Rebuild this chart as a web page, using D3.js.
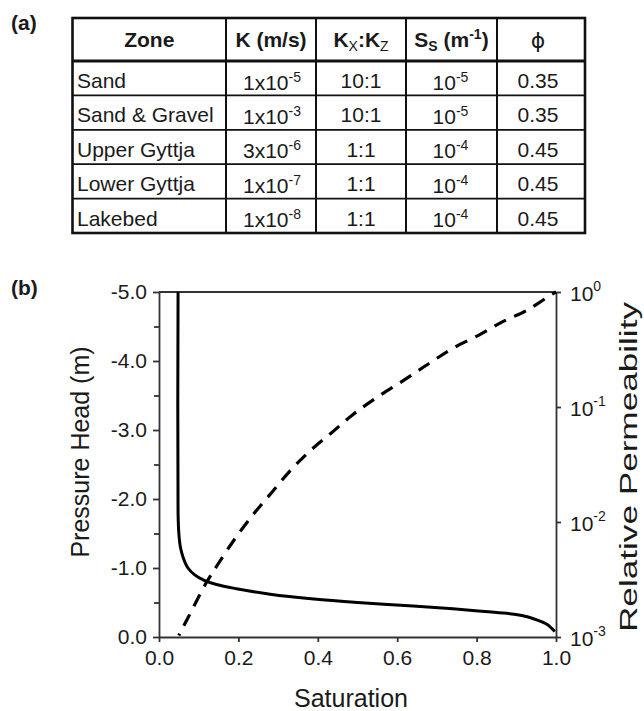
<!DOCTYPE html>
<html>
<head>
<meta charset="utf-8">
<script src="https://cdn.jsdelivr.net/npm/d3@7"></script>
<style>
  html, body { margin: 0; padding: 0; background: #fff; }
  svg { display: block; }
  text { font-family: "Liberation Sans", Arial, Helvetica, sans-serif; fill: #1a1a1a; }
</style>
</head>
<body>
<div id="chart"></div>
<script>
// ---------------- DATA ----------------
// (a) table
const zones       = ["Sand", "Sand & Gravel", "Upper Gyttja", "Lower Gyttja", "Lakebed"];
const kMantissa   = [1, 1, 3, 1, 1];
const kExponent   = [-5, -3, -6, -7, -8];
const anisotropy  = ["10:1", "10:1", "1:1", "1:1", "1:1"];
const ssExponent  = [-5, -5, -4, -4, -4];
const porosity    = ["0.35", "0.35", "0.45", "0.45", "0.45"];

// (b) retention curve: pressure head (m) vs saturation
const retentionHead = [-5.0, -1.8, -1.5, -1.3, -1.15, -1.0, -0.9, -0.82, -0.76, -0.7, -0.62, -0.55, -0.5, -0.45, -0.41, -0.37, -0.33, -0.29, -0.24, -0.18, -0.12, -0.08];
const retentionSat  = [0.048, 0.048, 0.05, 0.054, 0.061, 0.073, 0.09, 0.114, 0.145, 0.195, 0.28, 0.39, 0.5, 0.64, 0.74, 0.82, 0.895, 0.93, 0.955, 0.978, 0.99, 0.997];

// (b) relative permeability vs saturation
const permSat = [0.05, 0.073, 0.119, 0.148, 0.19, 0.237, 0.283, 0.329, 0.379, 0.434, 0.488, 0.547, 0.618, 0.681, 0.74, 0.807, 0.866, 0.928, 0.987, 1.0];
const permKr  = [0.00103, 0.00147, 0.00296, 0.00427, 0.00705, 0.0116, 0.0179, 0.0276, 0.0411, 0.0594, 0.0857, 0.120, 0.172, 0.240, 0.324, 0.424, 0.552, 0.698, 0.942, 1.0];

// tick values
const xTicks      = [0.0, 0.2, 0.4, 0.6, 0.8, 1.0];
const yTicks      = [-5, -4, -3, -2, -1, 0];
const yMinorTicks = [-4.5, -3.5, -2.5, -1.5, -0.5];
const y2Exponents = [0, -1, -2, -3];

// ---------------- LAYOUT ----------------
const W = 644, H = 711;
const svg = d3.select("#chart").append("svg").attr("width", W).attr("height", H);
svg.append("rect").attr("width", W).attr("height", H).attr("fill", "#fff");

const FONT = 21;

// panel labels
svg.append("text").attr("x", 11).attr("y", 30).attr("font-size", 21).attr("font-weight", "bold").text("(a)");
svg.append("text").attr("x", 11).attr("y", 295).attr("font-size", 21).attr("font-weight", "bold").text("(b)");

// ---------------- TABLE ----------------
const colEdges = [72.5, 226, 316, 406, 497, 585];
const tTop = 18, headBottom = 61, tBottom = 233;
const rowScale = d3.scaleBand().domain(d3.range(zones.length)).range([headBottom, tBottom]);
const colMid = i => (colEdges[i] + colEdges[i + 1]) / 2;
const tbl = svg.append("g");

rowScale.domain().slice(1).forEach(i => {
  tbl.append("line").attr("x1", colEdges[0]).attr("x2", colEdges[5])
    .attr("y1", rowScale(i)).attr("y2", rowScale(i))
    .attr("stroke", "#111").attr("stroke-width", 1.7);
});
colEdges.slice(1, 5).forEach(x => {
  tbl.append("line").attr("x1", x).attr("x2", x).attr("y1", tTop).attr("y2", tBottom)
    .attr("stroke", "#111").attr("stroke-width", 2);
});
tbl.append("line").attr("x1", colEdges[0]).attr("x2", colEdges[5])
  .attr("y1", headBottom).attr("y2", headBottom).attr("stroke", "#111").attr("stroke-width", 2.8);
tbl.append("rect").attr("x", colEdges[0]).attr("y", tTop)
  .attr("width", colEdges[5] - colEdges[0]).attr("height", tBottom - tTop)
  .attr("fill", "none").attr("stroke", "#111").attr("stroke-width", 2.6);

// header text
const hy = 47;
tbl.append("text").attr("x", colMid(0)).attr("y", hy).attr("text-anchor", "middle")
  .attr("font-size", FONT).attr("font-weight", "bold").text("Zone");
tbl.append("text").attr("x", colMid(1)).attr("y", hy).attr("text-anchor", "middle")
  .attr("font-size", FONT).attr("font-weight", "bold").text("K (m/s)");
{
  const t = tbl.append("text").attr("x", colMid(2)).attr("y", hy).attr("text-anchor", "middle")
    .attr("font-size", FONT).attr("font-weight", "bold");
  t.append("tspan").text("K");
  t.append("tspan").attr("font-size", 14).attr("font-weight", "normal").attr("dy", 4).text("X");
  t.append("tspan").attr("dy", -4).text(":K");
  t.append("tspan").attr("font-size", 14).attr("font-weight", "normal").attr("dy", 4).text("Z");
}
{
  const t = tbl.append("text").attr("x", colMid(3)).attr("y", hy).attr("text-anchor", "middle")
    .attr("font-size", FONT).attr("font-weight", "bold");
  t.append("tspan").text("S");
  t.append("tspan").attr("font-size", 14).attr("dy", 4).text("S");
  t.append("tspan").attr("dy", -4).text(" (m");
  t.append("tspan").attr("font-size", 14).attr("dy", -8).text("-1");
  t.append("tspan").attr("dy", 8).text(")");
}
tbl.append("text").attr("x", colMid(4) - 3).attr("y", hy + 1).attr("text-anchor", "middle")
  .attr("font-size", 22).attr("font-weight", "normal").style("font-family", "'DejaVu Sans'").text("\u03D5");

// rows
const rowBase = i => rowScale(i) + 27;
function supText(g, x, y, base, sup) {
  const t = g.append("text").attr("x", x).attr("y", y).attr("text-anchor", "middle").attr("font-size", FONT);
  t.append("tspan").text(base);
  t.append("tspan").attr("font-size", 14).attr("dy", -8).text(sup);
  return t;
}
zones.forEach((z, i) => {
  tbl.append("text").attr("x", colEdges[0] + 4.5).attr("y", rowBase(i)).attr("font-size", FONT).text(z);
  supText(tbl, colMid(1) + 1, rowBase(i) + 1.5, kMantissa[i] + "x10", String(kExponent[i]));
  tbl.append("text").attr("x", colMid(2)).attr("y", rowBase(i)).attr("text-anchor", "middle").attr("font-size", FONT).text(anisotropy[i]);
  supText(tbl, colMid(3) - 1, rowBase(i) + 1.5, "10", String(ssExponent[i]));
  tbl.append("text").attr("x", colMid(4) - 3).attr("y", rowBase(i)).attr("text-anchor", "middle").attr("font-size", FONT).text(porosity[i]);
});

// ---------------- CHART ----------------
const P = { left: 159, right: 556, top: 292, bottom: 637 };
const x  = d3.scaleLinear().domain([0, 1]).range([P.left, P.right]);
const y  = d3.scaleLinear().domain([-5, 0]).range([P.top, P.bottom]);
const y2 = d3.scaleLog().domain([1e-3, 1]).range([P.bottom, P.top]);

const axisColor = "#333";
const fmt = v => (v < 0 ? "-" : "") + Math.abs(v).toFixed(1);

const gL = svg.append("g").attr("transform", `translate(${P.left},0)`)
  .call(d3.axisLeft(y).tickValues(yTicks).tickFormat(fmt).tickSize(6).tickSizeOuter(0).tickPadding(6));
svg.append("g").attr("transform", `translate(${P.left},0)`)
  .call(d3.axisLeft(y).tickValues(yMinorTicks).tickFormat("").tickSize(5).tickSizeOuter(0))
  .select(".domain").remove();

const gB = svg.append("g").attr("transform", `translate(0,${P.bottom})`)
  .call(d3.axisBottom(x).tickValues(xTicks).tickFormat(fmt).tickSize(5).tickSizeOuter(0).tickPadding(8));

const gR = svg.append("g").attr("transform", `translate(${P.right},0)`)
  .call(d3.axisRight(y2).tickValues(y2Exponents.map(e => Math.pow(10, e))).tickFormat("").tickSize(5).tickSizeOuter(0));
gR.selectAll(".tick").each(function(d) {
  const t = d3.select(this).append("text").attr("x", 14).attr("y", 8)
    .attr("text-anchor", "start").attr("font-size", FONT).attr("fill", "#1a1a1a");
  t.append("tspan").text("10");
  t.append("tspan").attr("font-size", 14).attr("dy", -10).text(String(Math.round(Math.log10(d))));
});

svg.append("line").attr("x1", P.left).attr("x2", P.right).attr("y1", P.top).attr("y2", P.top)
  .attr("stroke", axisColor).attr("stroke-width", 1.8);

[gL, gB, gR].forEach(g => {
  g.selectAll(".domain").attr("stroke", axisColor).attr("stroke-width", 1.8);
  g.selectAll(".tick text").attr("font-size", FONT).attr("fill", "#1a1a1a")
    .attr("font-family", "'Liberation Sans', Arial, sans-serif");
});
svg.selectAll(".tick line").attr("stroke", axisColor).attr("stroke-width", 1.8);

// curves
const plot = svg.append("g");
const retention = retentionHead.map((h, i) => ({ s: retentionSat[i], h }));
const perm = permSat.map((s, i) => ({ s, k: permKr[i] }));

plot.append("path").datum(retention)
  .attr("d", d3.line().x(d => x(d.s)).y(d => y(d.h)).curve(d3.curveCatmullRom.alpha(0.5)))
  .attr("fill", "none").attr("stroke", "#000").attr("stroke-width", 3);

plot.append("path").datum(perm)
  .attr("d", d3.line().x(d => x(d.s)).y(d => y2(d.k)).curve(d3.curveCatmullRom.alpha(0.5)))
  .attr("fill", "none").attr("stroke", "#000").attr("stroke-width", 3.2)
  .attr("stroke-dasharray", "13,9").attr("stroke-dashoffset", 11);

// axis titles
svg.append("text").attr("x", 351).attr("y", 707).attr("text-anchor", "middle").attr("font-size", 25).text("Saturation");
svg.append("text").attr("transform", "translate(89,452) rotate(-90)").attr("text-anchor", "middle")
  .attr("font-size", 25).text("Pressure Head (m)");
svg.append("text").attr("transform", "translate(637,467) rotate(-90)").attr("text-anchor", "middle")
  .attr("font-size", 23).attr("textLength", 330).attr("lengthAdjust", "spacingAndGlyphs")
  .text("Relative Permeability");
</script>
</body>
</html>
